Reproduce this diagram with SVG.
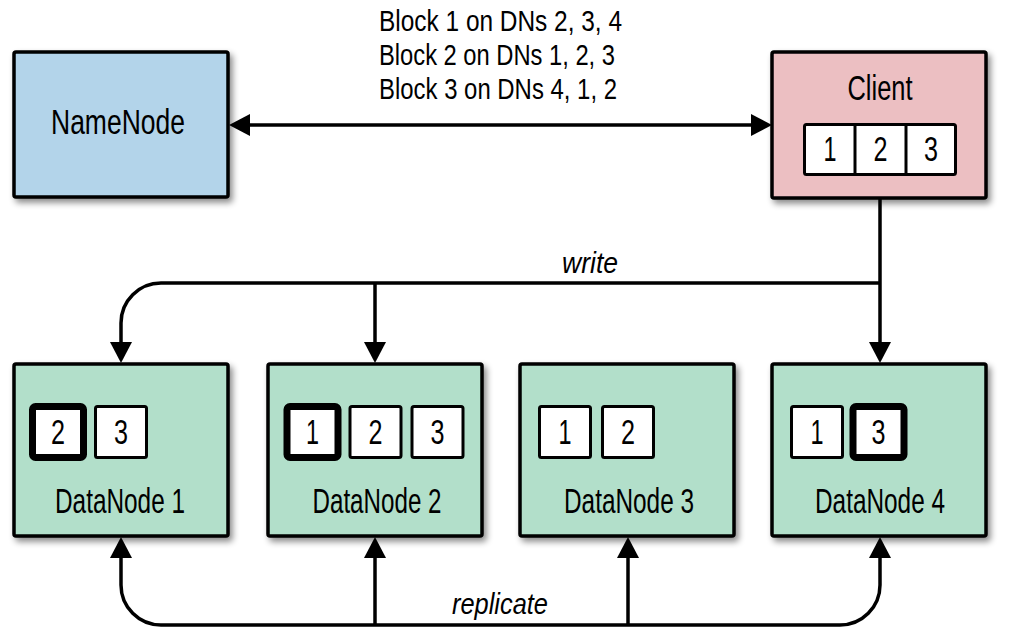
<svg xmlns="http://www.w3.org/2000/svg" width="1012" height="627" viewBox="0 0 1012 627">
<style>
.box{stroke:#000;stroke-width:3.5;filter:url(#sh)}
.nn{fill:#b3d4ea}
.cl{fill:#ecbfc2}
.dn{fill:#b2dfca}
.blk{fill:#fff;stroke:#000;stroke-width:3}
.bold{fill:#fff;stroke:#000;stroke-width:7}
text{font-family:"Liberation Sans",Arial,sans-serif;fill:#000}
.lbl{font-size:35px;text-anchor:middle}
.dig{font-size:35px;text-anchor:middle}
.top{font-size:30px}
.it{font-size:30px;font-style:italic;text-anchor:middle}
.con{fill:none;stroke:#000;stroke-width:3.5}
</style>
<defs>
<filter id="sh" x="-10%" y="-10%" width="130%" height="130%">
<feDropShadow dx="3" dy="4" stdDeviation="3" flood-color="#000" flood-opacity="0.45"/>
</filter>
<marker id="ah" markerUnits="userSpaceOnUse" markerWidth="22" markerHeight="24" refX="0" refY="11" orient="auto-start-reverse" viewBox="0 0 22 22">
<path d="M0,0 L21,11 L0,22 z" fill="#000"/>
</marker>
</defs>
<rect width="1012" height="627" fill="#fff"/>

<g id="topText">
<text class="top" x="379" y="31" textLength="243" lengthAdjust="spacingAndGlyphs">Block 1 on DNs 2, 3, 4</text>
<text class="top" x="379" y="65" textLength="236" lengthAdjust="spacingAndGlyphs">Block 2 on DNs 1, 2, 3</text>
<text class="top" x="379" y="99" textLength="238" lengthAdjust="spacingAndGlyphs">Block 3 on DNs 4, 1, 2</text>
</g>

<g id="connectors">
<path class="con" d="M250,125 H751" marker-start="url(#ah)" marker-end="url(#ah)"/>
<path class="con" d="M880,199 V342" marker-end="url(#ah)"/>
<path class="con" d="M880,283 H161 A40,40 0 0 0 121,323 V342" marker-end="url(#ah)"/>
<path class="con" d="M375,283 V342" marker-end="url(#ah)"/>
<path class="con" d="M121,558 V585 A40,40 0 0 0 161,625 H840 A40,40 0 0 0 880,585 V558" marker-start="url(#ah)" marker-end="url(#ah)"/>
<path class="con" d="M375,625 V558" marker-end="url(#ah)"/>
<path class="con" d="M628,625 V558" marker-end="url(#ah)"/>
<text class="it" x="590" y="273" textLength="56" lengthAdjust="spacingAndGlyphs">write</text>
<text class="it" x="500" y="614" textLength="96" lengthAdjust="spacingAndGlyphs">replicate</text>
</g>

<g id="namenode">
<rect class="box nn" x="14" y="52" width="214" height="145" rx="2"/>
<text class="lbl" x="118" y="134" textLength="134" lengthAdjust="spacingAndGlyphs">NameNode</text>
</g>

<g id="client">
<rect class="box cl" x="772" y="52" width="214" height="146" rx="2"/>
<text class="lbl" x="880" y="100" textLength="65" lengthAdjust="spacingAndGlyphs">Client</text>
<rect class="blk" x="804.5" y="124.5" width="151" height="50" rx="2"/>
<line x1="855" y1="124.5" x2="855" y2="174.5" stroke="#000" stroke-width="3"/>
<line x1="906" y1="124.5" x2="906" y2="174.5" stroke="#000" stroke-width="3"/>
<text class="dig" x="830" y="161" textLength="13" lengthAdjust="spacingAndGlyphs">1</text>
<text class="dig" x="880.5" y="161" textLength="14" lengthAdjust="spacingAndGlyphs">2</text>
<text class="dig" x="931" y="161" textLength="14" lengthAdjust="spacingAndGlyphs">3</text>
</g>

<g id="datanode1">
<rect class="box dn" x="14" y="364" width="214" height="172" rx="2"/>
<rect class="bold" x="32.5" y="406.5" width="51" height="51" rx="3"/>
<text class="dig" x="58" y="444" textLength="14" lengthAdjust="spacingAndGlyphs">2</text>
<rect class="blk" x="95.5" y="406.5" width="51" height="51" rx="2"/>
<text class="dig" x="121" y="444" textLength="14" lengthAdjust="spacingAndGlyphs">3</text>
<text class="lbl" x="120" y="513" textLength="130" lengthAdjust="spacingAndGlyphs">DataNode 1</text>
</g>

<g id="datanode2">
<rect class="box dn" x="268" y="364" width="214" height="172" rx="2"/>
<rect class="bold" x="287" y="406.5" width="51" height="51" rx="3"/>
<text class="dig" x="312.5" y="444" textLength="13" lengthAdjust="spacingAndGlyphs">1</text>
<rect class="blk" x="350" y="406.5" width="51" height="51" rx="2"/>
<text class="dig" x="375.5" y="444" textLength="14" lengthAdjust="spacingAndGlyphs">2</text>
<rect class="blk" x="412" y="406.5" width="51" height="51" rx="2"/>
<text class="dig" x="437.5" y="444" textLength="14" lengthAdjust="spacingAndGlyphs">3</text>
<text class="lbl" x="377" y="513" textLength="129" lengthAdjust="spacingAndGlyphs">DataNode 2</text>
</g>

<g id="datanode3">
<rect class="box dn" x="520" y="364" width="214" height="172" rx="2"/>
<rect class="blk" x="539.5" y="406.5" width="51" height="51" rx="2"/>
<text class="dig" x="565" y="444" textLength="13" lengthAdjust="spacingAndGlyphs">1</text>
<rect class="blk" x="602.5" y="406.5" width="51" height="51" rx="2"/>
<text class="dig" x="628" y="444" textLength="14" lengthAdjust="spacingAndGlyphs">2</text>
<text class="lbl" x="629" y="513" textLength="130" lengthAdjust="spacingAndGlyphs">DataNode 3</text>
</g>

<g id="datanode4">
<rect class="box dn" x="772" y="364" width="214" height="172" rx="2"/>
<rect class="blk" x="791.5" y="406.5" width="51" height="51" rx="2"/>
<text class="dig" x="817" y="444" textLength="13" lengthAdjust="spacingAndGlyphs">1</text>
<rect class="bold" x="853" y="406.5" width="51" height="51" rx="3"/>
<text class="dig" x="878.5" y="444" textLength="14" lengthAdjust="spacingAndGlyphs">3</text>
<text class="lbl" x="880" y="513" textLength="130" lengthAdjust="spacingAndGlyphs">DataNode 4</text>
</g>
</svg>
